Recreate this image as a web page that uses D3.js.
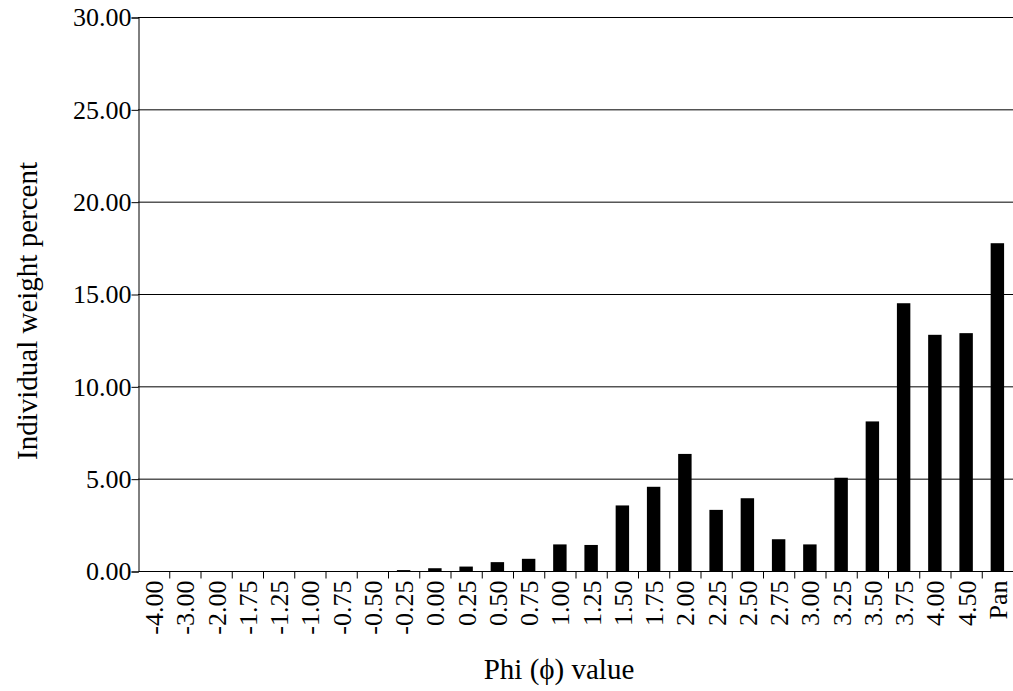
<!DOCTYPE html>
<html><head><meta charset="utf-8">
<script src="https://cdn.jsdelivr.net/npm/d3@7"></script>
<style>body{margin:0;background:#fff}svg{display:block}</style>
</head><body>
<svg id="c" width="1013" height="691"></svg>
<script>
const categories = ["-4.00","-3.00","-2.00","-1.75","-1.25","-1.00","-0.75","-0.50","-0.25","0.00","0.25","0.50","0.75","1.00","1.25","1.50","1.75","2.00","2.25","2.50","2.75","3.00","3.25","3.50","3.75","4.00","4.50","Pan"];
const values = [0,0,0,0,0,0,0,0,0.05,0.15,0.24,0.48,0.66,1.44,1.41,3.55,4.56,6.34,3.31,3.94,1.72,1.44,5.05,8.1,14.5,12.79,12.88,17.75];
const yTicks = [0,5,10,15,20,25,30];

const svg = d3.select("#c");
const font = "Liberation Serif, Times New Roman, serif";
const m = {left:138, right:1013, top:17, bottom:571};

const x = d3.scaleBand().domain(categories).range([m.left, m.right]).paddingInner(0.57).paddingOuter(0.285);
const y = d3.scaleLinear().domain([0,30]).range([m.bottom, m.top]);

// gridlines
svg.append("g").selectAll("line").data(yTicks.filter(d=>d>0)).join("line")
  .attr("x1", m.left).attr("x2", m.right)
  .attr("y1", d=>y(d)+0.5).attr("y2", d=>y(d)+0.5)
  .attr("stroke","#000").attr("stroke-width",1);

// bars
svg.append("g").selectAll("rect").data(categories).join("rect")
  .attr("x", d=>x(d)).attr("width", x.bandwidth())
  .attr("y", (d,i)=>y(values[i])).attr("height", (d,i)=>y(0)-y(values[i]))
  .attr("fill","#000");

// y axis
const ya = svg.append("g").attr("transform",`translate(${m.left+0.5},0.5)`)
  .call(d3.axisLeft(y).tickValues(yTicks).tickFormat(d3.format(".2f")).tickSize(7).tickPadding(0));
ya.attr("font-family",font).attr("font-size",26);
ya.select(".domain").attr("stroke","#000");
ya.selectAll("text").attr("fill","#000");

// x axis
const xStep = x.step();
const xa = svg.append("g").attr("transform",`translate(0.5,${m.bottom+0.5})`)
  .attr("font-family",font).attr("font-size",26);
xa.append("line").attr("x1",m.left).attr("x2",m.right).attr("stroke","#000");
xa.selectAll("line.t").data(d3.range(categories.length)).join("line").attr("class","t")
  .attr("x1",i=>m.left+(i+1)*xStep).attr("x2",i=>m.left+(i+1)*xStep)
  .attr("y1",0).attr("y2",7).attr("stroke","#000");
xa.selectAll("text").data(categories).join("text")
  .attr("transform", d=>`translate(${x(d)+x.bandwidth()/2},9) rotate(-90)`)
  .attr("text-anchor","end").attr("dy","0.35em")
  .attr("fill","#000")
  .text(d=>d);

// titles
svg.append("text").attr("x",559).attr("y",679).attr("text-anchor","middle")
  .attr("font-family",font).attr("font-size",29).text("Phi (\u03D5) value");
svg.append("text").attr("transform","translate(27,311) rotate(-90)").attr("text-anchor","middle")
  .attr("font-family",font).attr("font-size",29).attr("dy","0.35em").text("Individual weight percent");
</script>
</body></html>
